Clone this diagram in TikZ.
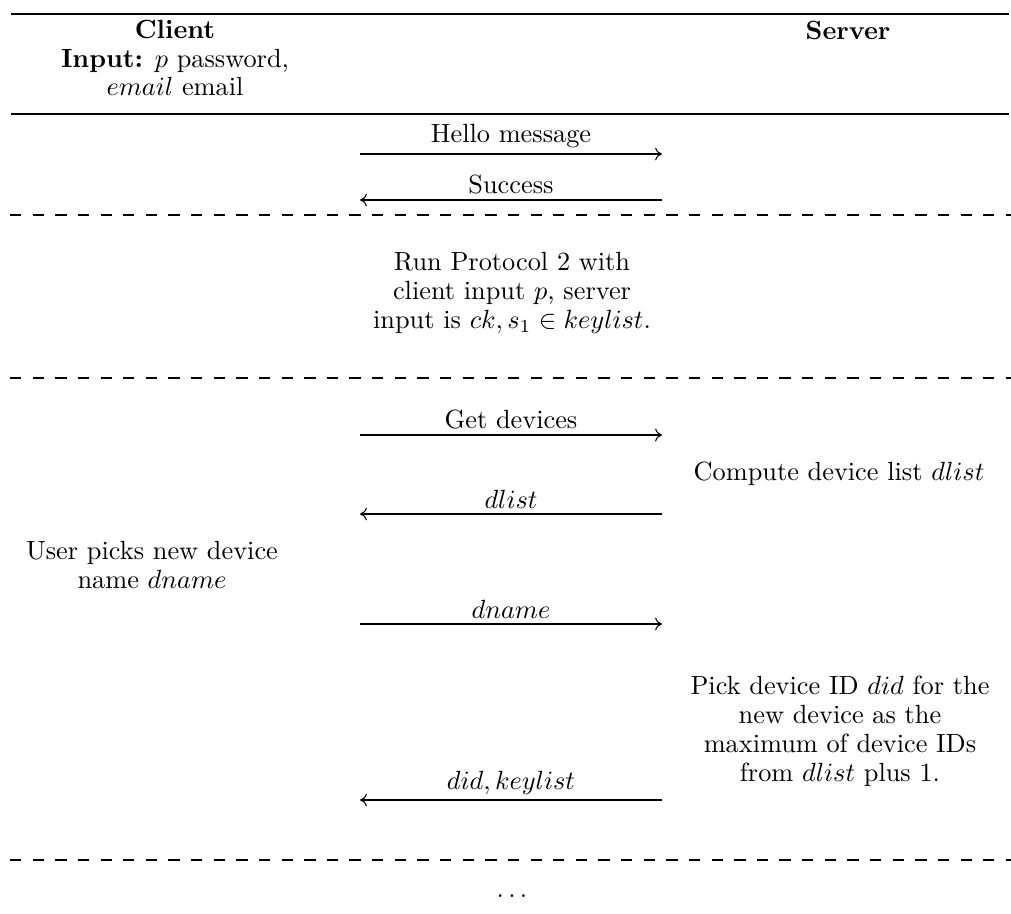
\documentclass[tikz,border=0pt]{standalone}
\usepackage{amsmath}
\usetikzlibrary{arrows.meta}
\begin{document}
\begin{tikzpicture}[x=0.38pt,y=-0.38pt,
  txt/.style={inner sep=0pt,align=center,font=\fontsize{10}{11}\selectfont},
  msg/.style={-{To[length=2.6pt,width=4.8pt]},line width=0.4pt},
  lbl/.style={above,inner sep=2pt,font=\fontsize{10}{11}\selectfont},
  sep/.style={dashed,dash pattern=on 4.3pt off 4.3pt,line width=0.4pt},
  rule/.style={line width=0.5pt}]
\useasboundingbox (0,0) rectangle (1011,913);
% rules
\coordinate (t1) at (11,14); \coordinate (t2) at (1009,14);
\coordinate (m1) at (11,114); \coordinate (m2) at (1009,114);
\draw[rule] (t1) -- (t2);
\draw[rule,line width=0.8pt] (m1) -- (m2);
% headers
\node[txt] (client) at (175,58) {\textbf{Client}\\\textbf{Input:} $p$ password,\\$email$ email};
\node[txt,anchor=base] (server) at (848,39) {\textbf{Server}};
% hello
\coordinate (a1l) at (360,154); \coordinate (a1r) at (662,154);
\draw[msg] (a1l) -- node[lbl] (l1) {Hello message} (a1r);
\coordinate (a2l) at (360,200); \coordinate (a2r) at (662,200);
\draw[msg] (a2r) -- node[lbl] (l2) {Success} (a2l);
\coordinate (d1l) at (10,215); \coordinate (d1r) at (1011,215);
\draw[sep] (d1l) -- (d1r);
% protocol 2
\node[txt] (run) at (512,293) {Run Protocol 2 with\\client input $p$, server\\input is $ck, s_1 \in keylist$.};
\coordinate (d2l) at (10,378); \coordinate (d2r) at (1011,378);
\draw[sep] (d2l) -- (d2r);
% devices
\coordinate (a3l) at (360,435); \coordinate (a3r) at (662,435);
\draw[msg] (a3l) -- node[lbl] (l3) {Get devices} (a3r);
\node[txt] (compute) at (839,474) {Compute device list $dlist$};
\coordinate (a4l) at (360,514); \coordinate (a4r) at (662,514);
\draw[msg] (a4r) -- node[lbl] (l4) {$dlist$} (a4l);
\node[txt] (user) at (152,565) {User picks new device\\name $dname$};
\coordinate (a5l) at (360,624); \coordinate (a5r) at (662,624);
\draw[msg] (a5l) -- node[lbl] (l5) {$dname$} (a5r);
\node[txt] (pick) at (840,731) {Pick device ID $did$ for the\\new device as the\\maximum of device IDs\\from $dlist$ plus 1.};
\coordinate (a6l) at (360,800); \coordinate (a6r) at (662,800);
\draw[msg] (a6r) -- node[lbl] (l6) {$did, keylist$} (a6l);
\coordinate (d3l) at (10,860); \coordinate (d3r) at (1011,860);
\draw[sep] (d3l) -- (d3r);
\node[txt,anchor=base] (dots) at (512,897) {$\ldots$};
\end{tikzpicture}
\end{document}
